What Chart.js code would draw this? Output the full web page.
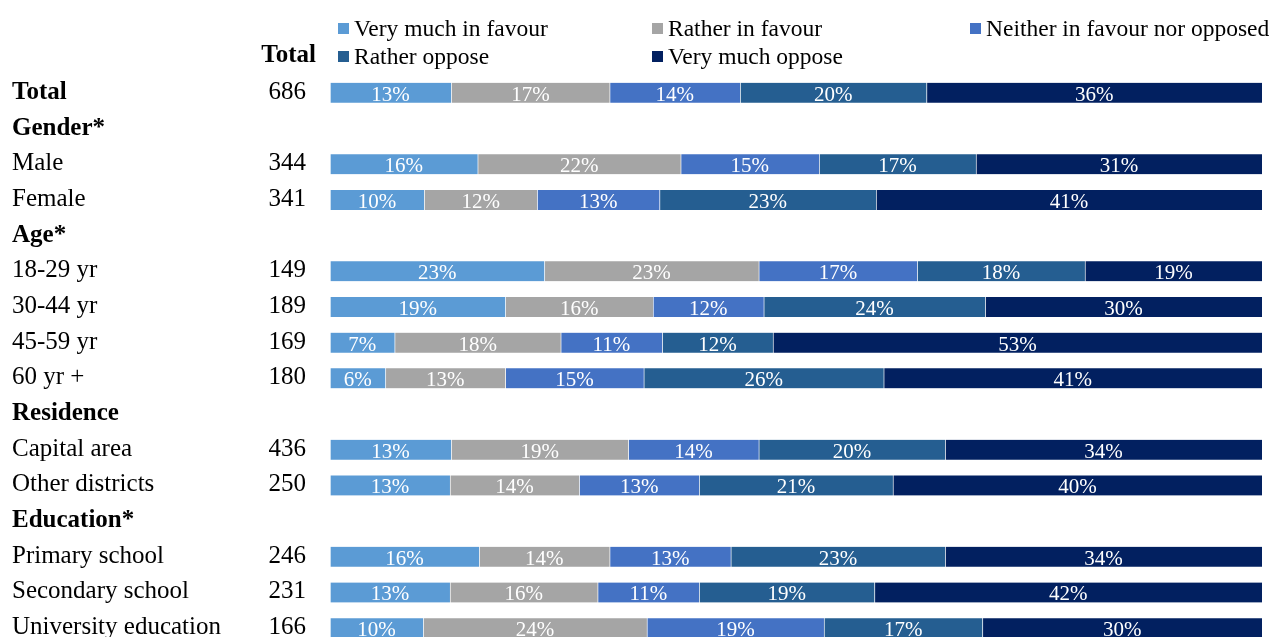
<!DOCTYPE html>
<html>
<head>
<meta charset="utf-8">
<script src="https://cdn.jsdelivr.net/npm/chart.js@4.4.1/dist/chart.umd.min.js"></script>
<style>
  html, body { margin: 0; padding: 0; background: #fff; overflow: hidden; }
  #wrap { position: relative; width: 1273px; height: 650px; }
</style>
</head>
<body>
<div id="wrap"><canvas id="chart" width="1273" height="650"></canvas></div>
<script>
// row labels, null group rows are section headers
const rowLabels = ['Total', 'Gender*', 'Male', 'Female', 'Age*', '18-29 yr', '30-44 yr', '45-59 yr', '60 yr +',
  'Residence', 'Capital area', 'Other districts', 'Education*', 'Primary school', 'Secondary school', 'University education'];
const boldRows = ['Total', 'Gender*', 'Age*', 'Residence', 'Education*'];
const counts = [686, null, 344, 341, null, 149, 189, 169, 180, null, 436, 250, null, 246, 231, 166];

const seriesNames = ['Very much in favour', 'Rather in favour', 'Neither in favour nor opposed', 'Rather oppose', 'Very much oppose'];
const seriesColors = ['#5B9BD5', '#A5A5A5', '#4472C4', '#255E91', '#022060'];

const veryMuchFavour = [13, null, 16, 10, null, 23, 19, 7, 6, null, 13, 13, null, 16, 13, 10];
const ratherFavour   = [17, null, 22, 12, null, 23, 16, 18, 13, null, 19, 14, null, 14, 16, 24];
const neither        = [14, null, 15, 13, null, 17, 12, 11, 15, null, 14, 13, null, 13, 11, 19];
const ratherOppose   = [20, null, 17, 23, null, 18, 24, 12, 26, null, 20, 21, null, 23, 19, 17];
const veryMuchOppose = [36, null, 31, 41, null, 19, 30, 53, 41, null, 34, 40, null, 34, 42, 30];

const seriesValues = [veryMuchFavour, ratherFavour, neither, ratherOppose, veryMuchOppose];

// 100% stacked: each row is scaled to its own sum
const rowSums = rowLabels.map((_, i) => seriesValues.reduce((s, arr) => s + (arr[i] || 0), 0));

const FONT = '"Liberation Serif", "Times New Roman", serif';

const sidePlugin = {
  id: 'sideText',
  afterDraw(chart) {
    const ctx = chart.ctx;
    const yScale = chart.scales.y;
    ctx.save();
    ctx.textBaseline = 'alphabetic';
    rowLabels.forEach((lab, i) => {
      const y = yScale.getPixelForValue(i);
      const bold = boldRows.includes(lab);
      ctx.fillStyle = '#000';
      ctx.font = (bold ? 'bold ' : '') + '25px ' + FONT;
      ctx.textAlign = 'left';
      ctx.fillText(lab, 12, y + 6);
      if (counts[i] !== null) {
        ctx.font = '25px ' + FONT;
        ctx.textAlign = 'right';
        ctx.fillText(String(counts[i]), 306, y + 6);
      }
    });
    ctx.font = 'bold 25px ' + FONT;
    ctx.textAlign = 'right';
    ctx.fillText('Total', 316, 62);

    // legend in a 3 column grid
    const legendPos = [[338, 36], [652, 36], [970, 36], [338, 64], [652, 64]];
    ctx.font = '23.5px ' + FONT;
    ctx.textAlign = 'left';
    seriesNames.forEach((name, k) => {
      const [lx, ly] = legendPos[k];
      ctx.fillStyle = seriesColors[k];
      ctx.fillRect(lx, ly - 13, 11, 11);
      ctx.fillStyle = '#000';
      ctx.fillText(name, lx + 16, ly);
    });

    // value labels inside the bars
    ctx.font = '21px ' + FONT;
    ctx.textAlign = 'center';
    ctx.fillStyle = '#fff';
    chart.data.datasets.forEach((ds, di) => {
      const meta = chart.getDatasetMeta(di);
      meta.data.forEach((bar, i) => {
        const v = seriesValues[di][i];
        if (v === null) return;
        ctx.fillText(v + '%', (bar.x + bar.base) / 2, bar.y + 8);
      });
    });
    ctx.restore();
  }
};

new Chart(document.getElementById('chart').getContext('2d'), {
  type: 'bar',
  data: {
    labels: rowLabels,
    datasets: seriesNames.map((name, k) => ({
      label: name,
      data: seriesValues[k].map((v, i) => v === null ? null : v / rowSums[i] * 100),
      backgroundColor: seriesColors[k],
      borderColor: 'rgba(255,255,255,0.5)',
      borderWidth: { left: 1, right: 0, top: 0, bottom: 0 },
      borderSkipped: false,
      barThickness: 20
    }))
  },
  options: {
    indexAxis: 'y',
    responsive: false,
    animation: false,
    layout: { padding: { left: 330, right: 11, top: 75, bottom: 4 } },
    scales: {
      x: { stacked: true, min: 0, max: 100, display: false },
      y: { stacked: true, display: false }
    },
    plugins: {
      legend: { display: false },
      tooltip: { enabled: false }
    }
  },
  plugins: [sidePlugin]
});
</script>
</body>
</html>
